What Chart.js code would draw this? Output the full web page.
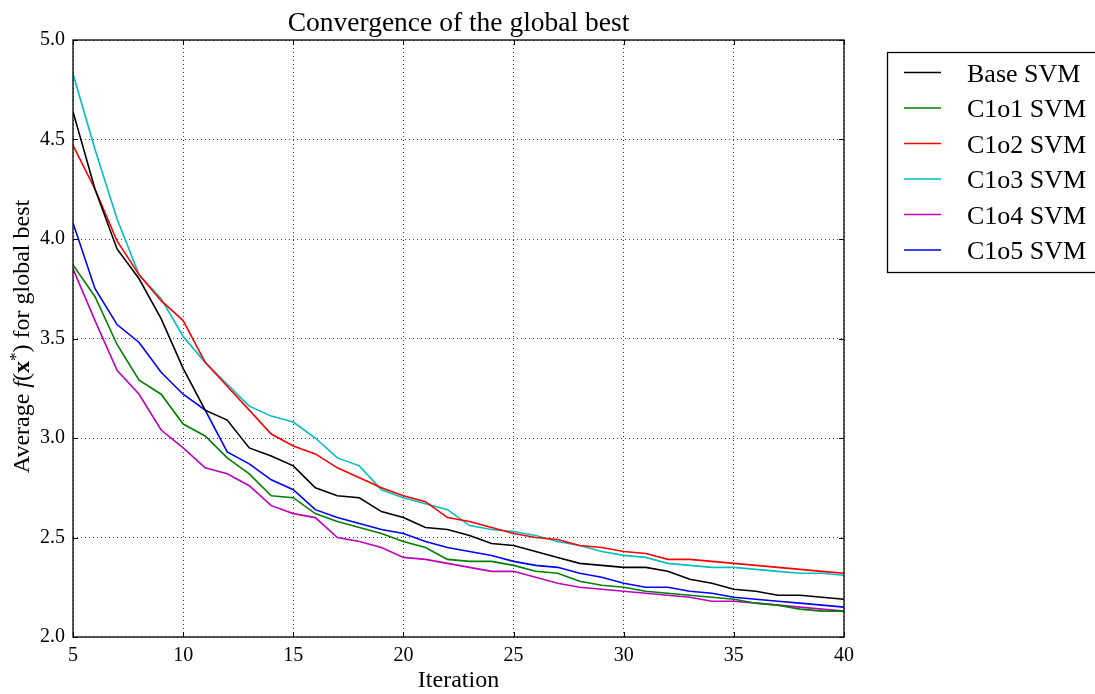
<!DOCTYPE html>
<html>
<head>
<meta charset="utf-8">
<script src="https://cdn.jsdelivr.net/npm/chart.js@4.4.1/dist/chart.umd.min.js"></script>
<style>
  html, body { margin: 0; padding: 0; background: #fff; }
  canvas { display: block; }
</style>
</head>
<body>
<canvas id="c" width="1095" height="694"></canvas>
<script>
// ---------- data ----------
const chartTitle = 'Convergence of the global best';
const xAxisLabel = 'Iteration';
const iterations = [5,6,7,8,9,10,11,12,13,14,15,16,17,18,19,20,21,22,23,24,25,26,27,28,29,30,31,32,33,34,35,36,37,38,39,40];
const xTicks = [5,10,15,20,25,30,35,40];
const yTicks = ['2.0','2.5','3.0','3.5','4.0','4.5','5.0'];
const seriesNames = ['Base SVM','C1o1 SVM','C1o2 SVM','C1o3 SVM','C1o4 SVM','C1o5 SVM'];
const seriesColors = ['#000000','#008000','#ff0000','#00bfbf','#bf00bf','#0000ff'];

const baseSVM = [4.64,4.25,3.95,3.80,3.60,3.35,3.14,3.09,2.95,2.91,2.86,2.75,2.71,2.70,2.63,2.60,2.55,2.54,2.51,2.47,2.46,2.43,2.40,2.37,2.36,2.35,2.35,2.33,2.29,2.27,2.24,2.23,2.21,2.21,2.20,2.19];
const c1o1SVM = [3.87,3.71,3.47,3.29,3.22,3.07,3.01,2.90,2.82,2.71,2.70,2.62,2.58,2.55,2.52,2.48,2.45,2.39,2.38,2.38,2.36,2.33,2.32,2.28,2.26,2.25,2.23,2.22,2.21,2.20,2.19,2.17,2.16,2.14,2.13,2.13];
const c1o2SVM = [4.47,4.25,3.99,3.82,3.69,3.59,3.38,3.26,3.14,3.02,2.96,2.92,2.85,2.80,2.75,2.71,2.68,2.60,2.58,2.55,2.52,2.50,2.49,2.46,2.45,2.43,2.42,2.39,2.39,2.38,2.37,2.36,2.35,2.34,2.33,2.32];
const c1o3SVM = [4.83,4.45,4.10,3.82,3.70,3.51,3.38,3.27,3.16,3.11,3.08,3.00,2.90,2.86,2.74,2.70,2.67,2.64,2.56,2.54,2.53,2.51,2.48,2.46,2.43,2.41,2.40,2.37,2.36,2.35,2.35,2.34,2.33,2.32,2.32,2.31];
const c1o4SVM = [3.85,3.59,3.34,3.22,3.04,2.95,2.85,2.82,2.76,2.66,2.62,2.60,2.50,2.48,2.45,2.40,2.39,2.37,2.35,2.33,2.33,2.30,2.27,2.25,2.24,2.23,2.22,2.21,2.20,2.18,2.18,2.17,2.16,2.15,2.14,2.13];
const c1o5SVM = [4.08,3.75,3.57,3.48,3.33,3.22,3.14,2.93,2.87,2.79,2.74,2.64,2.60,2.57,2.54,2.52,2.48,2.45,2.43,2.41,2.38,2.36,2.35,2.32,2.30,2.27,2.25,2.25,2.23,2.22,2.20,2.19,2.18,2.17,2.16,2.15];
const seriesValues = [baseSVM, c1o1SVM, c1o2SVM, c1o3SVM, c1o4SVM, c1o5SVM];

// ---------- styling ----------
const SERIF = '"Liberation Serif", "Times New Roman", serif';

const datasets = seriesNames.map((name, k) => ({
  label: name,
  data: iterations.map((x, j) => ({ x: x, y: seriesValues[k][j] })),
  borderColor: seriesColors[k],
  backgroundColor: seriesColors[k],
  borderWidth: 1.6,
  pointRadius: 0,
  pointHoverRadius: 0,
  tension: 0,
  fill: false
}));

const framePlugin = {
  id: 'frame',
  afterDatasetsDraw(chart) {
    const { ctx, chartArea: a, scales } = chart;
    ctx.save();
    ctx.strokeStyle = '#000';
    ctx.lineWidth = 1;
    const tl = 5;
    ctx.beginPath();
    xTicks.forEach(v => {
      const px = Math.round(scales.x.getPixelForValue(v)) + 0.5;
      ctx.moveTo(px, a.bottom); ctx.lineTo(px, a.bottom - tl);
      ctx.moveTo(px, a.top); ctx.lineTo(px, a.top + tl);
    });
    yTicks.forEach(t => {
      const py = Math.round(scales.y.getPixelForValue(parseFloat(t))) + 0.5;
      ctx.moveTo(a.left, py); ctx.lineTo(a.left + tl, py);
      ctx.moveTo(a.right, py); ctx.lineTo(a.right - tl, py);
    });
    ctx.stroke();
    ctx.lineWidth = 1.3;
    ctx.strokeRect(a.left, a.top, a.right - a.left, a.bottom - a.top);
    ctx.restore();
  },
  afterDraw(chart) {
    const { ctx, chartArea: a } = chart;
    ctx.save();
    ctx.fillStyle = '#000';
    ctx.font = '27.5px ' + SERIF;
    ctx.textAlign = 'center';
    ctx.textBaseline = 'alphabetic';
    ctx.fillText(chartTitle, (a.left + a.right) / 2, 31);

    const size = 24;
    const parts = [
      { t: 'Average ', f: `${size}px ${SERIF}`, dy: 0 },
      { t: 'f', f: `italic ${size}px ${SERIF}`, dy: 0 },
      { t: '(', f: `${size}px ${SERIF}`, dy: 0 },
      { t: 'x', f: `bold ${size}px ${SERIF}`, dy: 0 },
      { t: '*', f: `${Math.round(size * 0.72)}px ${SERIF}`, dy: -8 },
      { t: ')', f: `${size}px ${SERIF}`, dy: 0 },
      { t: ' for global best', f: `${size}px ${SERIF}`, dy: 0 }
    ];
    let total = 0;
    parts.forEach(p => { ctx.font = p.f; p.w = ctx.measureText(p.t).width; total += p.w; });
    ctx.translate(28.5, (a.top + a.bottom) / 2 - 2);
    ctx.rotate(-Math.PI / 2);
    ctx.textAlign = 'left';
    let cx = -total / 2;
    parts.forEach(p => { ctx.font = p.f; ctx.fillText(p.t, cx, p.dy); cx += p.w; });
    ctx.restore();

    ctx.save();
    const lx = 887.5, ly = 52.5, lw = 230, lh = 220;
    ctx.fillStyle = '#fff';
    ctx.fillRect(lx, ly, lw, lh);
    ctx.strokeStyle = '#000';
    ctx.lineWidth = 1.3;
    ctx.strokeRect(lx, ly, lw, lh);
    ctx.font = '26px ' + SERIF;
    ctx.textAlign = 'left';
    ctx.textBaseline = 'alphabetic';
    chart.data.datasets.forEach((ds, k) => {
      const y = 72.5 + k * 35.5;
      ctx.strokeStyle = ds.borderColor;
      ctx.lineWidth = 1.6;
      ctx.beginPath();
      ctx.moveTo(904, y); ctx.lineTo(941, y);
      ctx.stroke();
      ctx.fillStyle = '#000';
      ctx.fillText(ds.label, 967, y + 9);
    });
    ctx.restore();
  }
};

new Chart(document.getElementById('c'), {
  type: 'line',
  data: { datasets: datasets },
  options: {
    responsive: false,
    devicePixelRatio: 1,
    animation: false,
    events: [],
    layout: { padding: { top: 40, right: 251, bottom: 0, left: 0 } },
    plugins: { legend: { display: false }, title: { display: false }, tooltip: { enabled: false } },
    scales: {
      x: {
        type: 'linear',
        min: 5, max: 40,
        afterBuildTicks: s => { s.ticks = xTicks.map(v => ({ value: v })); },
        afterFit: s => { s.height = 57; },
        ticks: { color: '#000', font: { family: SERIF, size: 20 }, padding: 7, maxRotation: 0, autoSkip: false },
        grid: { color: 'rgba(0,0,0,0.75)', lineWidth: 1, drawTicks: false },
        border: { display: false, dash: [1, 3] },
        title: { display: true, text: xAxisLabel, color: '#000', font: { family: SERIF, size: 24, lineHeight: 1 }, padding: { top: 0, bottom: 1 } }
      },
      y: {
        type: 'linear',
        min: 2.0, max: 5.0,
        afterBuildTicks: s => { s.ticks = yTicks.map(t => ({ value: parseFloat(t) })); },
        afterFit: s => { s.width = 73; },
        ticks: { color: '#000', font: { family: SERIF, size: 20 }, padding: 8,
                 callback: (v) => yTicks.find(t => parseFloat(t) === v) || '' },
        grid: { color: 'rgba(0,0,0,0.75)', lineWidth: 1, drawTicks: false },
        border: { display: false, dash: [1, 3] }
      }
    }
  },
  plugins: [framePlugin]
});
</script>
</body>
</html>
